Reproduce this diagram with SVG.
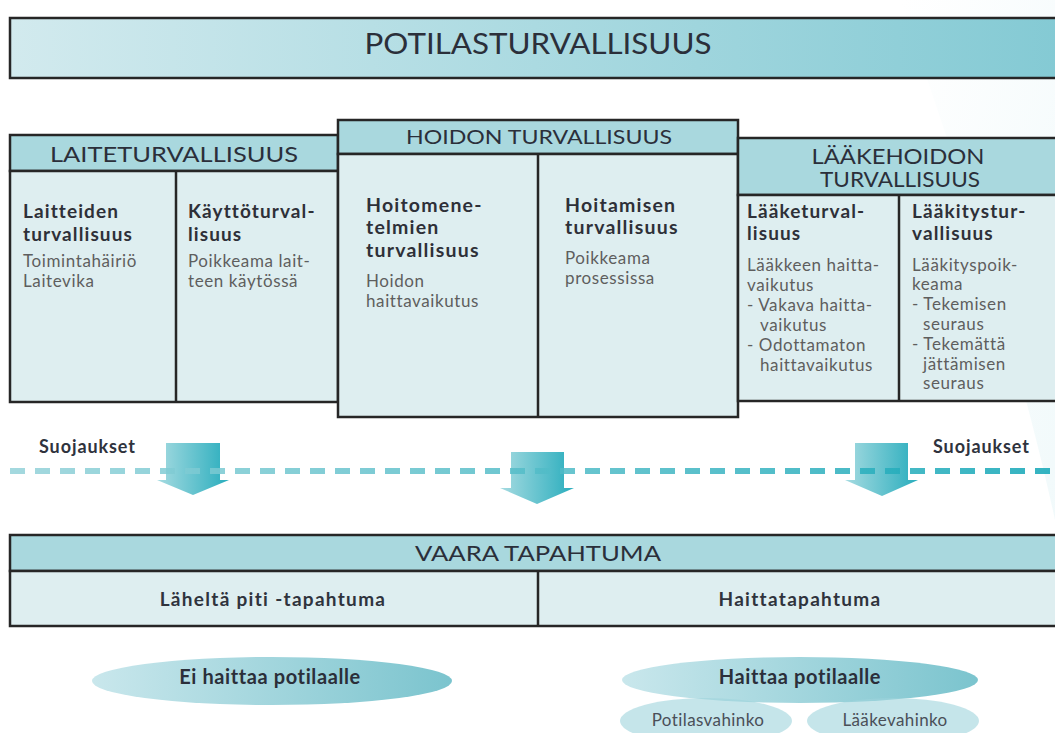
<svg xmlns="http://www.w3.org/2000/svg" width="1055" height="733" viewBox="0 0 1055 733">
<defs>
<linearGradient id="gTitle" x1="0" y1="0" x2="1" y2="0">
<stop offset="0" stop-color="#d2eaee"/><stop offset="1" stop-color="#84cad4"/>
</linearGradient>
<linearGradient id="gArrow" x1="0" y1="0" x2="1" y2="0">
<stop offset="0" stop-color="#a6dbe1"/><stop offset="1" stop-color="#29adbd"/>
</linearGradient>
<linearGradient id="gDash" x1="0" y1="0" x2="1055" y2="0" gradientUnits="userSpaceOnUse">
<stop offset="0" stop-color="#96d3da"/><stop offset="1" stop-color="#12a7b7"/>
</linearGradient>
<linearGradient id="gEll" x1="0" y1="0" x2="1" y2="0">
<stop offset="0" stop-color="#c9e7ec"/><stop offset="1" stop-color="#7bc4ce"/>
</linearGradient>
<linearGradient id="gBg" x1="0" y1="0" x2="1" y2="1">
<stop offset="0" stop-color="#ffffff"/><stop offset="1" stop-color="#e8f6f8"/>
</linearGradient>
<style>
.box{stroke:#262626;stroke-width:2.5}
.hd{fill:#a9d8de}
.bd{fill:#deeef0}
.ln{stroke:#262626;stroke-width:2.5;fill:none}
text{font-family:Lato,"Open Sans","Liberation Sans",sans-serif}
.ht{font-size:21px;fill:#2b2f3a;text-anchor:middle}
.b{font-size:19px;font-weight:700;fill:#2e3038;letter-spacing:1.1px}
.b2{font-size:19.5px;font-weight:700;fill:#2e3038;letter-spacing:1.2px}
.r{font-size:17px;fill:#5e5e5e;letter-spacing:0.6px}
.s{font-size:18px;font-weight:700;fill:#2f333d;letter-spacing:0.9px}
.m{font-size:19px;font-weight:700;fill:#2f333d;text-anchor:middle;letter-spacing:1.3px}
.e{font-size:20px;font-weight:700;fill:#2b2f3a;text-anchor:middle;letter-spacing:0.6px}
.sm{font-size:17px;fill:#4a4f58;text-anchor:middle;letter-spacing:0.4px}
</style>
</defs>
<rect width="1055" height="733" fill="#ffffff"/>
<path d="M900 0 L1055 0 L1055 520 C1025 380 970 200 900 0 Z" fill="url(#gBg)" opacity="0.6"/>

<g id="potilasturvallisuus">
<rect class="box" x="10" y="18" width="1050" height="60" fill="url(#gTitle)"/>
<text class="ht" x="538" y="54" textLength="347" lengthAdjust="spacingAndGlyphs" style="font-size:28px">POTILASTURVALLISUUS</text>
</g>

<g id="laiteturvallisuus">
<rect class="box hd" x="10" y="135" width="328" height="36"/>
<rect class="box bd" x="10" y="171" width="328" height="231"/>
<line class="ln" x1="176" y1="171" x2="176" y2="402"/>
<text class="ht" x="174" y="162" textLength="248" lengthAdjust="spacingAndGlyphs">LAITETURVALLISUUS</text>
<text class="b" x="23" y="218">Laitteiden</text>
<text class="b" x="23" y="241">turvallisuus</text>
<text class="r" x="23" y="267">Toimintahäiriö</text>
<text class="r" x="23" y="287">Laitevika</text>
<text class="b" x="188" y="218">Käyttöturval-</text>
<text class="b" x="188" y="241">lisuus</text>
<text class="r" x="188" y="267">Poikkeama lait-</text>
<text class="r" x="188" y="287">teen käytössä</text>
</g>

<g id="hoidon-turvallisuus">
<rect class="box hd" x="338" y="120" width="400" height="34"/>
<rect class="box bd" x="338" y="154" width="400" height="263"/>
<line class="ln" x1="538" y1="154" x2="538" y2="417"/>
<text class="ht" x="539" y="144" style="font-size:20px" textLength="266" lengthAdjust="spacingAndGlyphs">HOIDON TURVALLISUUS</text>
<text class="b2" x="366" y="212">Hoitomene-</text>
<text class="b2" x="366" y="234">telmien</text>
<text class="b2" x="366" y="257">turvallisuus</text>
<text class="r" x="366" y="287">Hoidon</text>
<text class="r" x="366" y="307">haittavaikutus</text>
<text class="b2" x="565" y="212">Hoitamisen</text>
<text class="b2" x="565" y="234">turvallisuus</text>
<text class="r" x="565" y="264">Poikkeama</text>
<text class="r" x="565" y="284">prosessissa</text>
</g>

<g id="laakehoidon-turvallisuus">
<rect class="box hd" x="738" y="138" width="322" height="57"/>
<rect class="box bd" x="738" y="195" width="322" height="206"/>
<line class="ln" x1="899" y1="195" x2="899" y2="401"/>
<text class="ht" x="898" y="164" textLength="173" lengthAdjust="spacingAndGlyphs">LÄÄKEHOIDON</text>
<text class="ht" x="900" y="187" textLength="160" lengthAdjust="spacingAndGlyphs">TURVALLISUUS</text>
<text class="b" x="747" y="218">Lääketurval-</text>
<text class="b" x="747" y="240">lisuus</text>
<text class="r" x="747" y="271">Lääkkeen haitta-</text>
<text class="r" x="747" y="291">vaikutus</text>
<text class="r" x="747" y="311">-  Vakava haitta-</text>
<text class="r" x="760" y="331">vaikutus</text>
<text class="r" x="747" y="351">- Odottamaton</text>
<text class="r" x="760" y="371">haittavaikutus</text>
<text class="b" x="912" y="218">Lääkitystur-</text>
<text class="b" x="912" y="240">vallisuus</text>
<text class="r" x="912" y="271">Lääkityspoik-</text>
<text class="r" x="912" y="290">keama</text>
<text class="r" x="912" y="310">- Tekemisen</text>
<text class="r" x="923" y="330">seuraus</text>
<text class="r" x="912" y="350">- Tekemättä</text>
<text class="r" x="923" y="370">jättämisen</text>
<text class="r" x="923" y="389">seuraus</text>
</g>

<g id="connectors">
<path d="M166 443 H220 V480 H229 L193 495 L157 480 H166 Z" fill="url(#gArrow)"/>
<path d="M511 452 H564 V488 H574 L537 504 L500 488 H511 Z" fill="url(#gArrow)"/>
<path d="M855 443 H908 V480 H918 L882 496 L845 480 H855 Z" fill="url(#gArrow)"/>
<line x1="10" y1="471" x2="1055" y2="471" stroke="url(#gDash)" stroke-width="6" stroke-dasharray="15 10" opacity="0.85"/>
</g>

<g id="suojaukset">
<text class="s" x="39" y="453">Suojaukset</text>
<text class="s" x="933" y="453">Suojaukset</text>
</g>

<g id="vaara-tapahtuma">
<rect class="box hd" x="10" y="535" width="1050" height="36"/>
<rect class="box bd" x="10" y="571" width="1050" height="55"/>
<line class="ln" x1="538" y1="571" x2="538" y2="626"/>
<text class="ht" x="538" y="561" textLength="246" lengthAdjust="spacingAndGlyphs">VAARA TAPAHTUMA</text>
<text class="m" x="273" y="606">Läheltä piti -tapahtuma</text>
<text class="m" x="800" y="606">Haittatapahtuma</text>
</g>

<g id="ei-haittaa">
<ellipse cx="272" cy="681" rx="180" ry="24" fill="url(#gEll)"/>
<text class="e" x="270" y="684">Ei haittaa potilaalle</text>
</g>

<g id="haittaa">
<ellipse cx="800" cy="680" rx="178" ry="23" fill="url(#gEll)"/>
<text class="e" x="800" y="684">Haittaa potilaalle</text>
</g>

<g id="potilasvahinko">
<ellipse cx="706" cy="721" rx="86" ry="23" fill="#9ed4dc" opacity="0.6"/>
<text class="sm" x="708" y="726">Potilasvahinko</text>
</g>

<g id="laakevahinko">
<ellipse cx="893" cy="721" rx="86" ry="23" fill="#9ed4dc" opacity="0.6"/>
<text class="sm" x="895" y="726">Lääkevahinko</text>
</g>
</svg>
